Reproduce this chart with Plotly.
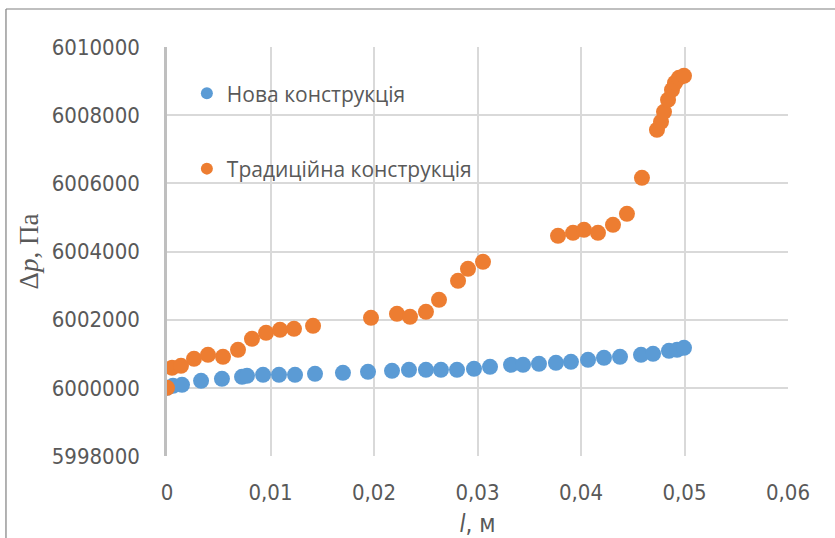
import plotly.graph_objects as go

# Pressure drop along the length, new vs. traditional design
l_new = [0.0, 0.00058, 0.00145, 0.00329, 0.00531, 0.00725, 0.00773, 0.00928, 0.01082,
         0.01237, 0.01430, 0.01700, 0.01942, 0.02174, 0.02338, 0.02502, 0.02647, 0.02802,
         0.02966, 0.03121, 0.03324, 0.03440, 0.03594, 0.03758, 0.03903, 0.04068, 0.04222,
         0.04377, 0.04580, 0.04696, 0.04850, 0.04928, 0.04995]
dp_new = [6000000, 6000059, 6000088, 6000205, 6000264, 6000323, 6000352, 6000381, 6000381,
          6000381, 6000411, 6000440, 6000469, 6000499, 6000528, 6000528, 6000528, 6000528,
          6000557, 6000616, 6000675, 6000675, 6000704, 6000733, 6000763, 6000821, 6000880,
          6000909, 6000968, 6000997, 6001085, 6001115, 6001174]

l_old = [0.0, 0.00048, 0.00135, 0.00261, 0.00396, 0.00541, 0.00686, 0.00821, 0.00957,
         0.01092, 0.01227, 0.01411, 0.01971, 0.02222, 0.02348, 0.02502, 0.02628, 0.02812,
         0.02908, 0.03053, 0.03778, 0.03923, 0.04029, 0.04164, 0.04309, 0.04444, 0.04589,
         0.04734, 0.04773, 0.04802, 0.04841, 0.04879, 0.04908, 0.04947, 0.04995]
dp_old = [6000000, 6000587, 6000646, 6000851, 6000968, 6000910, 6001115, 6001438, 6001614,
          6001702, 6001731, 6001819, 6002054, 6002171, 6002083, 6002230, 6002582, 6003139,
          6003491, 6003697, 6004460, 6004548, 6004636, 6004548, 6004782, 6005105, 6006161,
          6007570, 6007804, 6008098, 6008450, 6008743, 6008949, 6009095, 6009154]

x_ticks = [0, 0.01, 0.02, 0.03, 0.04, 0.05, 0.06]
x_tick_text = ["0", "0,01", "0,02", "0,03", "0,04", "0,05", "0,06"]
y_ticks = [5998000, 6000000, 6002000, 6004000, 6006000, 6008000, 6010000]
y_tick_text = [str(v) for v in y_ticks]

BLUE = "#5B9BD5"
ORANGE = "#ED7D31"
TEXT = "#595959"
GRID = "#D9D9D9"
TICK_FONT = dict(family="DejaVu Sans Condensed, Liberation Sans Narrow, sans-serif",
                 size=22, color=TEXT)

fig = go.Figure()
fig.add_trace(go.Scatter(
    x=l_new, y=dp_new, mode="markers", name="Нова конструкція",
    legendgroup="new",
    marker=dict(color=BLUE, size=16, line=dict(width=0)),
))
fig.add_trace(go.Scatter(
    x=l_old, y=dp_old, mode="markers", name="Традиційна конструкція",
    legendgroup="old",
    marker=dict(color=ORANGE, size=16, line=dict(width=0)),
))

# outer chart frame (left and top edges)
fig.add_shape(type="line", xref="paper", yref="paper",
              x0=-0.2593, x1=1.2, y0=1.0929, y1=1.0929,
              line=dict(color="#808080", width=1.2))
fig.add_shape(type="line", xref="paper", yref="paper",
              x0=-0.2593, x1=-0.2593, y0=-0.3, y1=1.0929,
              line=dict(color="#808080", width=1.2))

fig.update_layout(
    width=835, height=538,
    margin=dict(l=167, r=47, t=47, b=82, autoexpand=False),
    paper_bgcolor="white", plot_bgcolor="white",
    showlegend=True,
    legend=dict(
        x=0.032, y=0.936, xanchor="left", yanchor="top",
        bgcolor="rgba(0,0,0,0)", traceorder="grouped", tracegroupgap=45,
        font=dict(family="Open Sans, Noto Sans, sans-serif", size=21, color=TEXT),
        itemsizing="constant",
    ),
    xaxis=dict(
        range=[0, 0.06], tickvals=x_ticks, ticktext=x_tick_text,
        showgrid=True, gridcolor=GRID, gridwidth=2, zeroline=False,
        showline=False, ticks="outside", ticklen=17, tickcolor="rgba(0,0,0,0)",
        tickfont=TICK_FONT, automargin=False,
        title=dict(text="<i>l</i>, м", standoff=14,
                   font=dict(family="Liberation Sans Narrow, DejaVu Sans Condensed, sans-serif",
                             size=24, color=TEXT)),
    ),
    yaxis=dict(
        range=[5998000, 6010000], tickvals=y_ticks, ticktext=y_tick_text,
        showgrid=True, gridcolor=GRID, gridwidth=2, zeroline=False,
        showline=True, linecolor="#BFBFBF", linewidth=2.5,
        ticks="outside", ticklen=20, tickcolor="rgba(0,0,0,0)",
        tickfont=TICK_FONT, automargin=False,
        title=dict(text="Δ<i>p</i>, Па", standoff=6,
                   font=dict(family="Liberation Serif, Times New Roman, serif",
                             size=27, color=TEXT)),
    ),
)

fig.write_html("out.html")
